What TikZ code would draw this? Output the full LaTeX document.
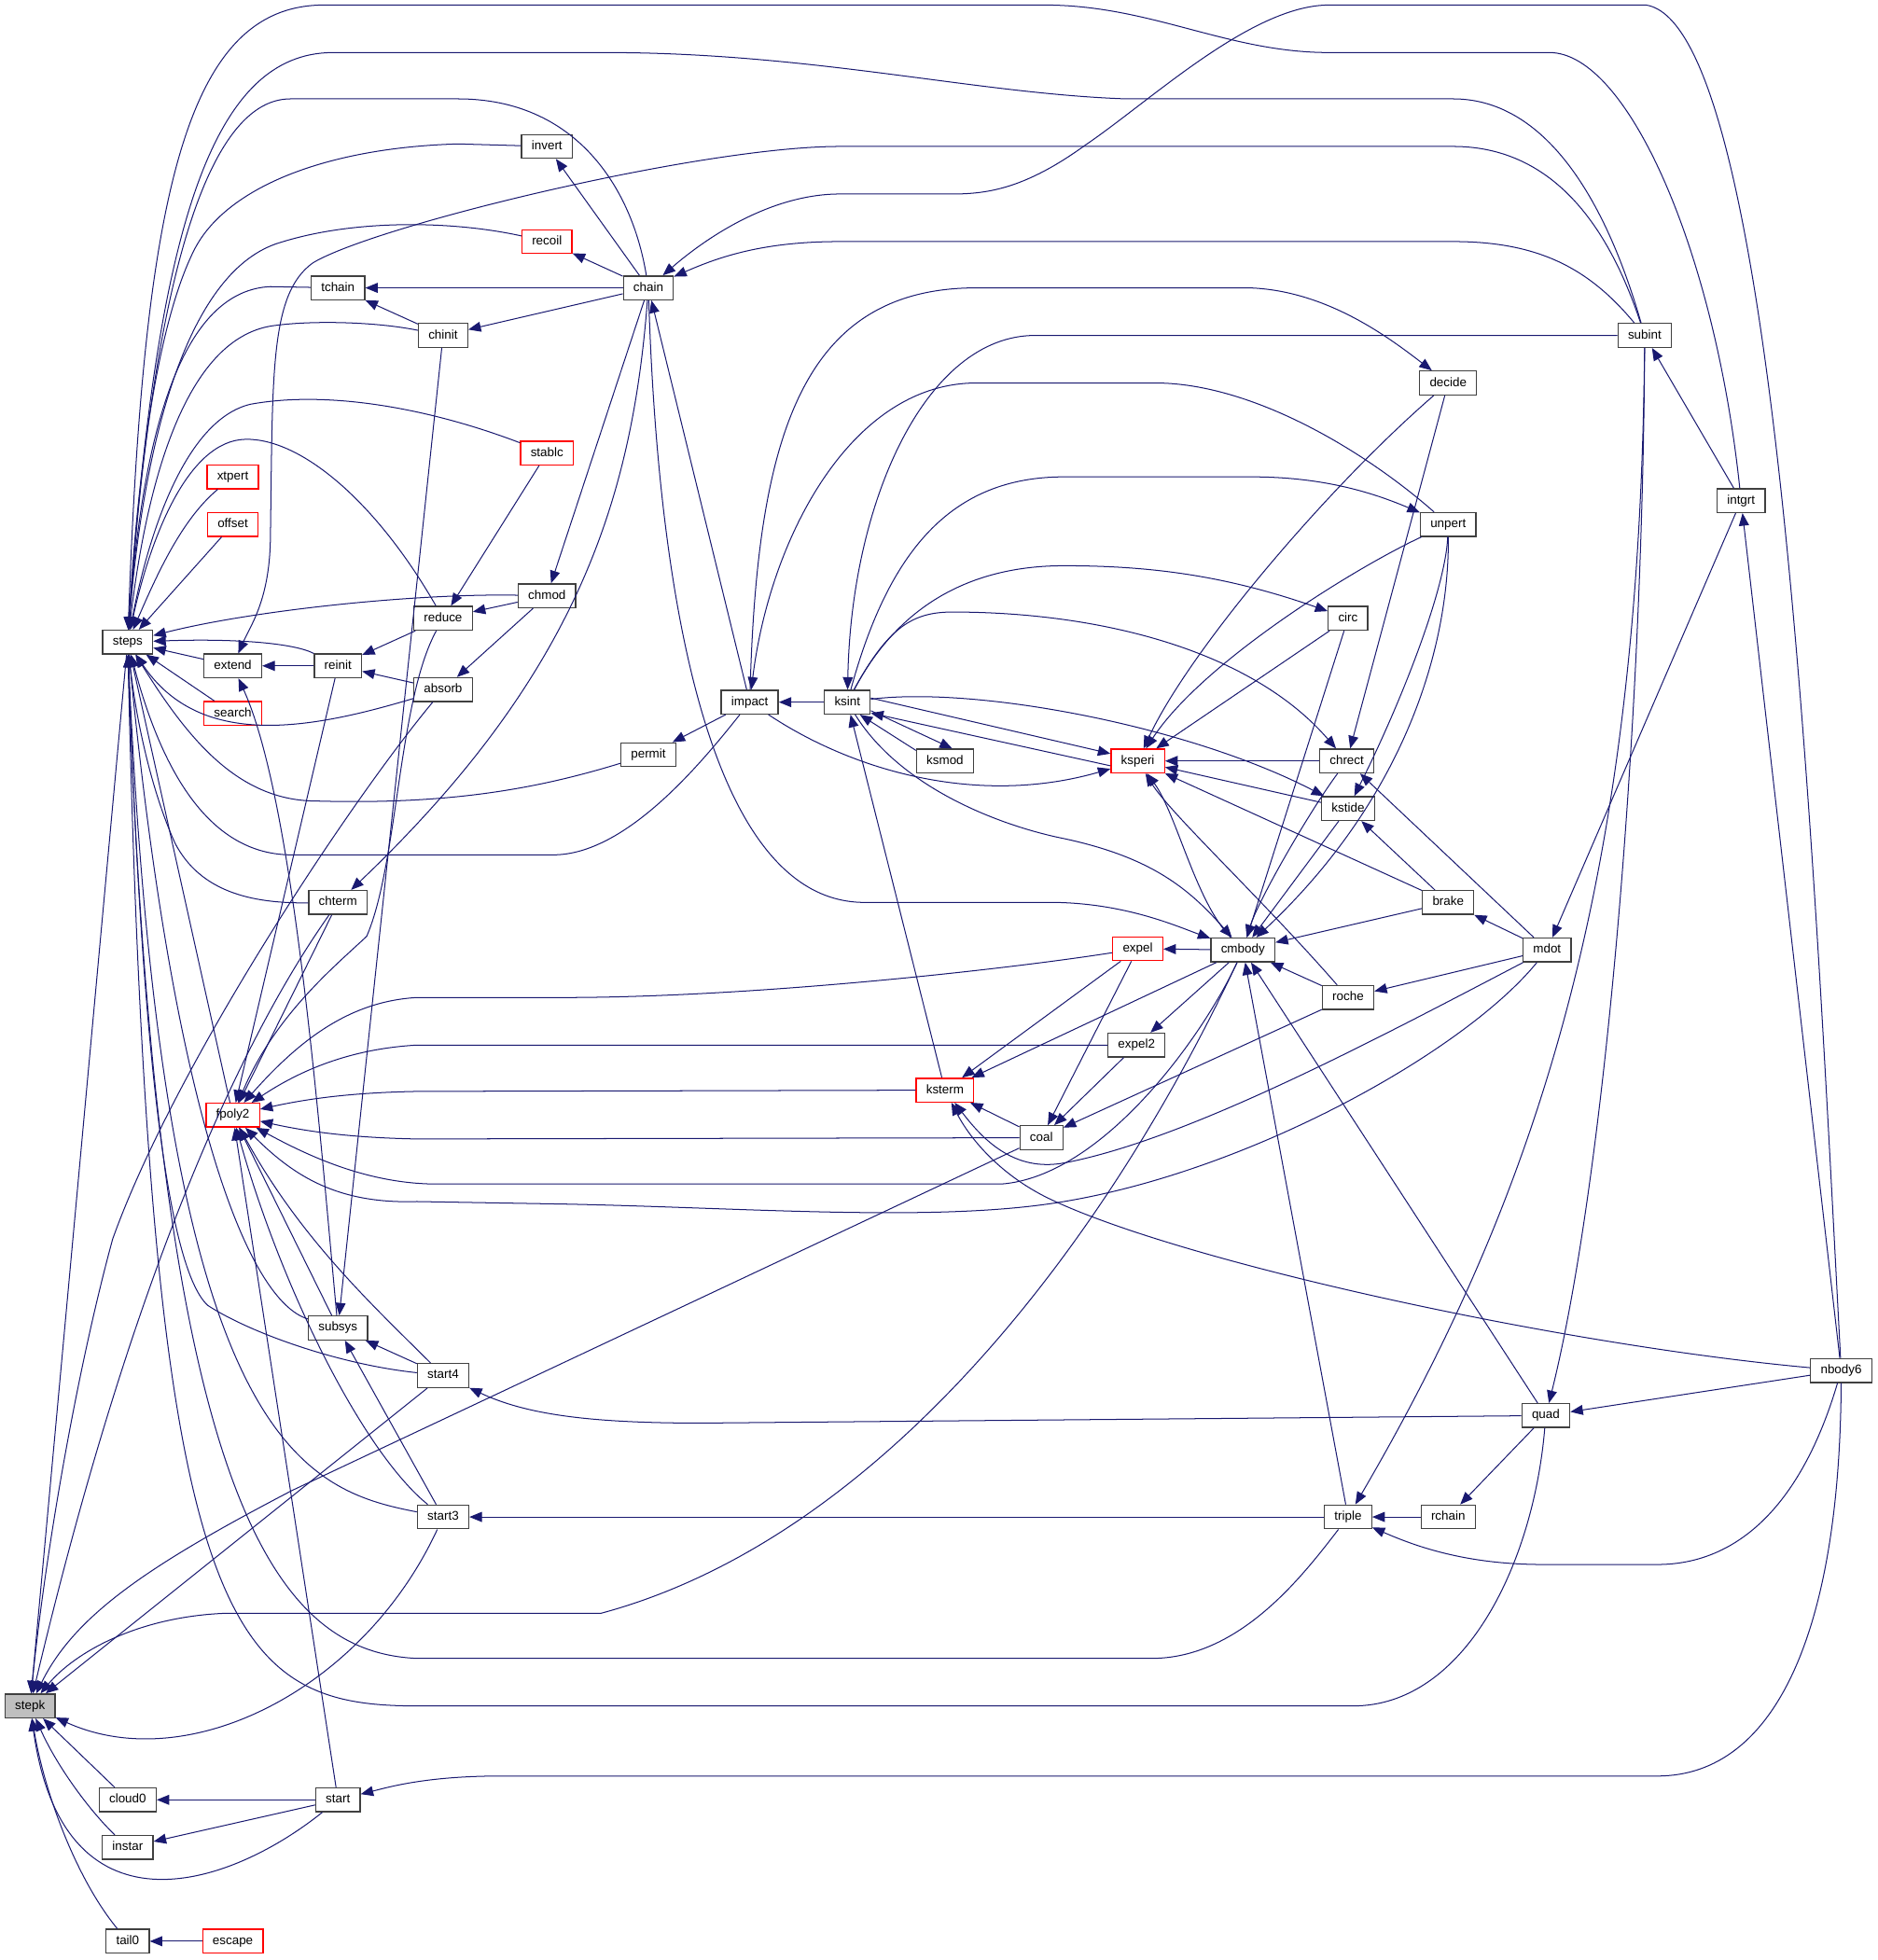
\documentclass[tikz,border=0pt]{standalone}
\usepackage{fontspec}
\setmainfont{Liberation Sans}
\usetikzlibrary{arrows.meta}
\definecolor{edgeblue}{HTML}{191970}
\definecolor{boxgray}{HTML}{404040}
\definecolor{rootgray}{HTML}{BFBFBF}
\tikzstyle{fn} = [rectangle, draw=boxgray, line width=1pt, fill=white, minimum height=19pt, inner xsep=8pt, inner ysep=0pt, text height=7.2pt, text depth=2pt, font=\fontsize{10}{12}\selectfont]
\tikzstyle{fnred} = [fn, draw=red]
\tikzstyle{fnroot} = [fn, fill=rootgray]
\tikzstyle{arrow} = [draw=edgeblue, line width=0.75pt, -{Triangle[length=10pt,width=8pt]}]

\begin{document}
\begin{tikzpicture}[x=1pt, y=-1pt]
\fill[white] (0,0) rectangle (1500,1566);
\useasboundingbox (0,0) rectangle (1500,1566);
% Nodes
\node (steps) [fn] at (102,513) {steps};
\node (stepk) [fnroot] at (24,1363) {stepk};
\node (invert) [fn] at (437,117) {invert};
\node (recoil) [fnred] at (437,193) {recoil};
\node (tchain) [fn] at (270,230) {tchain};
\node (chain) [fn] at (518,230) {chain};
\node (chinit) [fn] at (354,268) {chinit};
\node (stablc) [fnred] at (437,362) {stablc};
\node (xtpert) [fnred] at (186,381) {xtpert};
\node (offset) [fnred] at (186,419) {offset};
\node (chmod) [fn] at (437,476) {chmod};
\node (reduce) [fn] at (354,494) {reduce};
\node (extend) [fn] at (186,532) {extend};
\node (reinit) [fn] at (270,532) {reinit};
\node (absorb) [fn] at (354,551) {absorb};
\node (search) [fnred] at (186,570) {search};
\node (permit) [fn] at (518,603) {permit};
\node (impact) [fn] at (599,561) {impact};
\node (ksint) [fn] at (677,561) {ksint};
\node (ksmod) [fn] at (755,608) {ksmod};
\node (ksperi) [fnred] at (909,608) {ksperi};
\node (chterm) [fn] at (270,721) {chterm};
\node (expel) [fnred] at (909,758) {expel};
\node (cmbody) [fn] at (993,759) {cmbody};
\node (expel2) [fn] at (908,835) {expel2};
\node (ksterm) [fnred] at (755,871) {ksterm};
\node (coal) [fn] at (832,909) {coal};
\node (fpoly2) [fnred] at (186,891) {fpoly2};
\node (subsys) [fn] at (270,1061) {subsys};
\node (start4) [fn] at (354,1099) {start4};
\node (start3) [fn] at (354,1212) {start3};
\node (cloud0) [fn] at (102,1438) {cloud0};
\node (start) [fn] at (270,1438) {start};
\node (instar) [fn] at (102,1476) {instar};
\node (tail0) [fn] at (102,1551) {tail0};
\node (escape) [fnred] at (186,1551) {escape};
\node (subint) [fn] at (1314,268) {subint};
\node (decide) [fn] at (1157,306) {decide};
\node (intgrt) [fn] at (1391,400) {intgrt};
\node (unpert) [fn] at (1157,419) {unpert};
\node (circ) [fn] at (1077,494) {circ};
\node (chrect) [fn] at (1076,608) {chrect};
\node (kstide) [fn] at (1077,646) {kstide};
\node (brake) [fn] at (1157,721) {brake};
\node (mdot) [fn] at (1236,759) {mdot};
\node (roche) [fn] at (1077,797) {roche};
\node (quad) [fn] at (1235,1131) {quad};
\node (nbody6) [fn] at (1471,1095) {nbody6};
\node (triple) [fn] at (1077,1212) {triple};
\node (rchain) [fn] at (1157,1212) {rchain};

% Arrows into stepk
\draw [arrow] (steps) -- (stepk);
\draw [arrow] (absorb) .. controls (280,640) and (140,850) .. (90,990) .. controls (60,1100) and (35,1250) .. (stepk);
\draw [arrow] (chterm) .. controls (200,820) and (110,1000) .. (stepk);
\draw [arrow] (coal) -- (233,1191) .. controls (120,1250) and (60,1290) .. (stepk);
\draw [arrow] (start4) -- (stepk);
\draw [arrow] (cmbody) .. controls (880,1000) and (700,1230) .. (480,1289) -- (179,1289) .. controls (110,1292) and (60,1320) .. (stepk);
\draw [arrow] (start3) .. controls (290,1350) and (150,1420) .. (stepk);
\draw [arrow] (start) .. controls (180,1510) and (50,1550) .. (stepk);
\draw [arrow] (cloud0) -- (stepk);
\draw [arrow] (instar) .. controls (70,1445) and (45,1410) .. (stepk);
\draw [arrow] (tail0) .. controls (60,1500) and (35,1430) .. (stepk);
\draw [arrow] (escape) -- (tail0);
\draw [arrow] (start) -- (cloud0);
\draw [arrow] (start) -- (instar);

% Arrows into steps
\draw [arrow] (intgrt) .. controls (1370,200) and (1300,42) .. (1238,42) -- (1062,42) .. controls (980,42) and (920,4) .. (834,4) -- (259,4) .. controls (150,4) and (115,150) .. (steps);
\draw [arrow] (subint) .. controls (1280,150) and (1230,79) .. (1161,79) -- (900,79) .. controls (780,75) and (650,42) .. (484,42) -- (266,42) .. controls (170,42) and (125,180) .. (steps);
\draw [arrow] (chain) .. controls (505,150) and (460,79) .. (366,79) -- (232,79) .. controls (160,79) and (120,250) .. (steps);
\draw [arrow] (invert) -- (366,115) .. controls (260,118) and (180,150) .. (155,200) .. controls (125,260) and (110,380) .. (steps);
\draw [arrow] (recoil) .. controls (360,176) and (280,175) .. (220,195) .. controls (150,220) and (115,350) .. (steps);
\draw [arrow] (tchain) -- (216,229) .. controls (150,232) and (115,330) .. (steps);
\draw [arrow] (chinit) .. controls (300,257) and (250,256) .. (220,260) .. controls (150,268) and (118,380) .. (steps);
\draw [arrow] (stablc) .. controls (340,325) and (260,312) .. (200,323) .. controls (150,335) and (120,420) .. (steps);
\draw [arrow] (reduce) .. controls (300,400) and (240,350) .. (196,351) .. controls (150,352) and (120,430) .. (steps);
\draw [arrow] (xtpert) .. controls (145,415) and (125,460) .. (steps);
\draw [arrow] (offset) -- (steps);
\draw [arrow] (chmod) .. controls (330,474) and (200,488) .. (steps);
\draw [arrow] (extend) -- (steps);
\draw [arrow] (reinit) .. controls (235,514) and (190,510) .. (steps);
\draw [arrow] (search) -- (steps);
\draw [arrow] (absorb) .. controls (250,582) and (160,600) .. (steps);
\draw [arrow] (permit) .. controls (430,630) and (360,643) .. (253,640) .. controls (190,640) and (150,590) .. (steps);
\draw [arrow] (impact) .. controls (560,610) and (500,683) .. (442,683) -- (233,683) .. controls (160,683) and (125,600) .. (steps);
\draw [arrow] (chterm) .. controls (200,722) and (160,712) .. (140,674) .. controls (120,630) and (108,570) .. (steps);
\draw [arrow] (fpoly2) -- (steps);
\draw [arrow] (subsys) .. controls (200,1040) and (140,900) .. (steps);
\draw [arrow] (start4) .. controls (270,1090) and (200,1065) .. (166,1043) .. controls (130,1010) and (112,800) .. (steps);
\draw [arrow] (start3) .. controls (240,1190) and (130,1150) .. (steps);
\draw [arrow] (triple) .. controls (1040,1260) and (990,1325) .. (920,1325) -- (333,1325) .. controls (220,1320) and (125,1200) .. (steps);
\draw [arrow] (quad) .. controls (1225,1250) and (1170,1363) .. (1081,1363) -- (333,1363) .. controls (180,1363) and (120,1300) .. (steps);

% Arrows around chain
\draw [arrow] (nbody6) .. controls (1450,700) and (1420,20) .. (1315,4) -- (1062,4) .. controls (1000,4) and (920,80) .. (867,116) .. controls (820,150) and (790,155) .. (761,155) -- (671,155) .. controls (620,155) and (570,185) .. (chain);
\draw [arrow] (subint) .. controls (1270,215) and (1230,193) .. (1161,193) -- (671,193) .. controls (610,193) and (575,205) .. (chain);
\draw [arrow] (impact) -- (chain);
\draw [arrow] (chain) -- (tchain);
\draw [arrow] (chain) -- (chinit);
\draw [arrow] (chain) -- (invert);
\draw [arrow] (chain) -- (recoil);
\draw [arrow] (chain) -- (chmod);
\draw [arrow] (chain) .. controls (505,400) and (460,540) .. (chterm);
\draw [arrow] (chain) .. controls (525,450) and (560,720) .. (690,721) -- (843,721) .. controls (900,722) and (940,740) .. (cmbody);
\draw [arrow] (chinit) -- (tchain);
\draw [arrow] (chinit) -- (subsys);

% Arrows around reduce and fpoly2
\draw [arrow] (stablc) -- (reduce);
\draw [arrow] (chmod) -- (reduce);
\draw [arrow] (chmod) -- (absorb);
\draw [arrow] (reduce) -- (reinit);
\draw [arrow] (absorb) -- (reinit);
\draw [arrow] (reinit) -- (extend);
\draw [arrow] (reinit) -- (fpoly2);
\draw [arrow] (reduce) .. controls (318,560) and (318,690) .. (293,748) .. controls (270,770) and (220,810) .. (fpoly2);
\draw [arrow] (chterm) -- (fpoly2);
\draw [arrow] (subsys) .. controls (255,900) and (235,640) .. (extend);
\draw [arrow] (subint) .. controls (1280,165) and (1230,117) .. (1161,117) -- (671,117) .. controls (560,117) and (300,180) .. (250,210) .. controls (215,235) and (218,300) .. (216,432) .. controls (215,480) and (200,500) .. (extend);
\draw [arrow] (expel) .. controls (800,775) and (600,797) .. (450,797) -- (333,797) .. controls (280,800) and (240,830) .. (fpoly2);
\draw [arrow] (expel2) -- (333,835) .. controls (280,838) and (240,855) .. (fpoly2);
\draw [arrow] (ksterm) -- (333,872) .. controls (280,873) and (245,878) .. (fpoly2);
\draw [arrow] (coal) -- (333,910) .. controls (280,909) and (245,904) .. (fpoly2);
\draw [arrow] (cmbody) .. controls (960,830) and (880,940) .. (800,946) -- (349,946) .. controls (290,946) and (240,920) .. (fpoly2);
\draw [arrow] (mdot) .. controls (1170,840) and (1000,935) .. (850,960) .. controls (750,977) and (600,965) .. (450,962) -- (333,960) .. controls (270,962) and (235,940) .. (fpoly2);
\draw [arrow] (start) -- (fpoly2);
\draw [arrow] (start3) .. controls (290,1160) and (225,1030) .. (fpoly2);
\draw [arrow] (subsys) -- (fpoly2);
\draw [arrow] (start4) .. controls (300,1045) and (240,990) .. (fpoly2);
\draw [arrow] (start4) -- (subsys);
\draw [arrow] (start3) -- (subsys);

% Arrows on the right
\draw [arrow] (quad) -- (560,1137) .. controls (470,1137) and (420,1130) .. (start4);
\draw [arrow] (triple) -- (start3);
\draw [arrow] (rchain) -- (triple);
\draw [arrow] (quad) -- (rchain);
\draw [arrow] (nbody6) -- (quad);
\draw [arrow] (nbody6) .. controls (1440,1200) and (1390,1250) .. (1324,1250) -- (1233,1250) .. controls (1170,1250) and (1130,1235) .. (triple);
\draw [arrow] (nbody6) -- (intgrt);
\draw [arrow] (nbody6) .. controls (1470,1300) and (1420,1419) .. (1324,1419) -- (400,1419) .. controls (340,1419) and (310,1428) .. (start);
\draw [arrow] (nbody6) .. controls (1250,1075) and (950,1010) .. (841,959) .. controls (800,940) and (775,910) .. (ksterm);
\draw [arrow] (intgrt) -- (subint);
\draw [arrow] (intgrt) -- (mdot);
\draw [arrow] (subint) .. controls (1310,700) and (1230,950) .. (triple);
\draw [arrow] (subint) .. controls (1312,600) and (1280,950) .. (quad);
\draw [arrow] (subint) -- (827,268) .. controls (740,268) and (680,400) .. (ksint);
\draw [arrow] (quad) -- (cmbody);
\draw [arrow] (triple) -- (cmbody);
\draw [arrow] (mdot) -- (brake);
\draw [arrow] (mdot) -- (chrect);
\draw [arrow] (mdot) -- (roche);
\draw [arrow] (mdot) .. controls (1100,830) and (950,910) .. (851,929) .. controls (810,937) and (785,910) .. (ksterm);
\draw [arrow] (brake) -- (kstide);
\draw [arrow] (brake) -- (ksperi);
\draw [arrow] (brake) -- (cmbody);
\draw [arrow] (roche) -- (cmbody);
\draw [arrow] (roche) .. controls (1010,720) and (935,650) .. (ksperi);
\draw [arrow] (roche) -- (coal);
\draw [arrow] (kstide) -- (ksperi);
\draw [arrow] (kstide) -- (cmbody);
\draw [arrow] (chrect) -- (ksperi);
\draw [arrow] (chrect) .. controls (1045,650) and (1005,720) .. (cmbody);
\draw [arrow] (circ) -- (ksperi);
\draw [arrow] (circ) -- (cmbody);
\draw [arrow] (unpert) .. controls (1080,455) and (960,530) .. (ksperi);
\draw [arrow] (unpert) .. controls (1155,470) and (1120,560) .. (kstide);
\draw [arrow] (unpert) .. controls (1158,520) and (1120,640) .. (cmbody);
\draw [arrow] (unpert) .. controls (1090,360) and (1000,306) .. (923,306) -- (780,306) .. controls (680,306) and (615,430) .. (impact);
\draw [arrow] (decide) .. controls (1060,390) and (950,520) .. (ksperi);
\draw [arrow] (decide) -- (chrect);

% Arrows around impact and ksint
\draw [arrow] (impact) .. controls (605,350) and (640,230) .. (780,230) -- (998,230) .. controls (1060,232) and (1110,270) .. (decide);
\draw [arrow] (impact) .. controls (680,615) and (780,645) .. (ksperi);
\draw [arrow] (impact) -- (permit);
\draw [arrow] (ksint) -- (impact);
\draw [arrow] (ksint) .. controls (710,440) and (760,381) .. (850,381) -- (1000,381) .. controls (1060,381) and (1100,395) .. (unpert);
\draw [arrow] (ksint) .. controls (720,480) and (780,452) .. (850,452) .. controls (920,452) and (980,460) .. (circ);
\draw [arrow] (ksint) .. controls (710,500) and (730,489) .. (761,489) .. controls (880,489) and (1000,520) .. (chrect);
\draw [arrow] (ksint) .. controls (780,548) and (950,580) .. (kstide);
\draw [arrow] (ksint.10) -- (ksperi.165);
\draw [arrow] (ksperi.190) -- (ksint.-25);
\draw [arrow] (ksint.-20) -- (ksmod.60);
\draw [arrow] (ksmod.160) -- (ksint.-45);
\draw [arrow] (ksint) .. controls (720,630) and (800,660) .. (850,670) .. controls (920,685) and (950,710) .. (cmbody);
\draw [arrow] (ksterm) -- (ksint);

% Arrows around cmbody
\draw [arrow] (cmbody) -- (expel);
\draw [arrow] (cmbody) -- (expel2);
\draw [arrow] (cmbody) -- (ksterm);
\draw [arrow] (cmbody) .. controls (955,720) and (940,650) .. (ksperi);
\draw [arrow] (expel) -- (ksterm);
\draw [arrow] (expel) -- (coal);
\draw [arrow] (expel2) -- (coal);
\draw [arrow] (coal) -- (ksterm);
\end{tikzpicture}
\end{document}
